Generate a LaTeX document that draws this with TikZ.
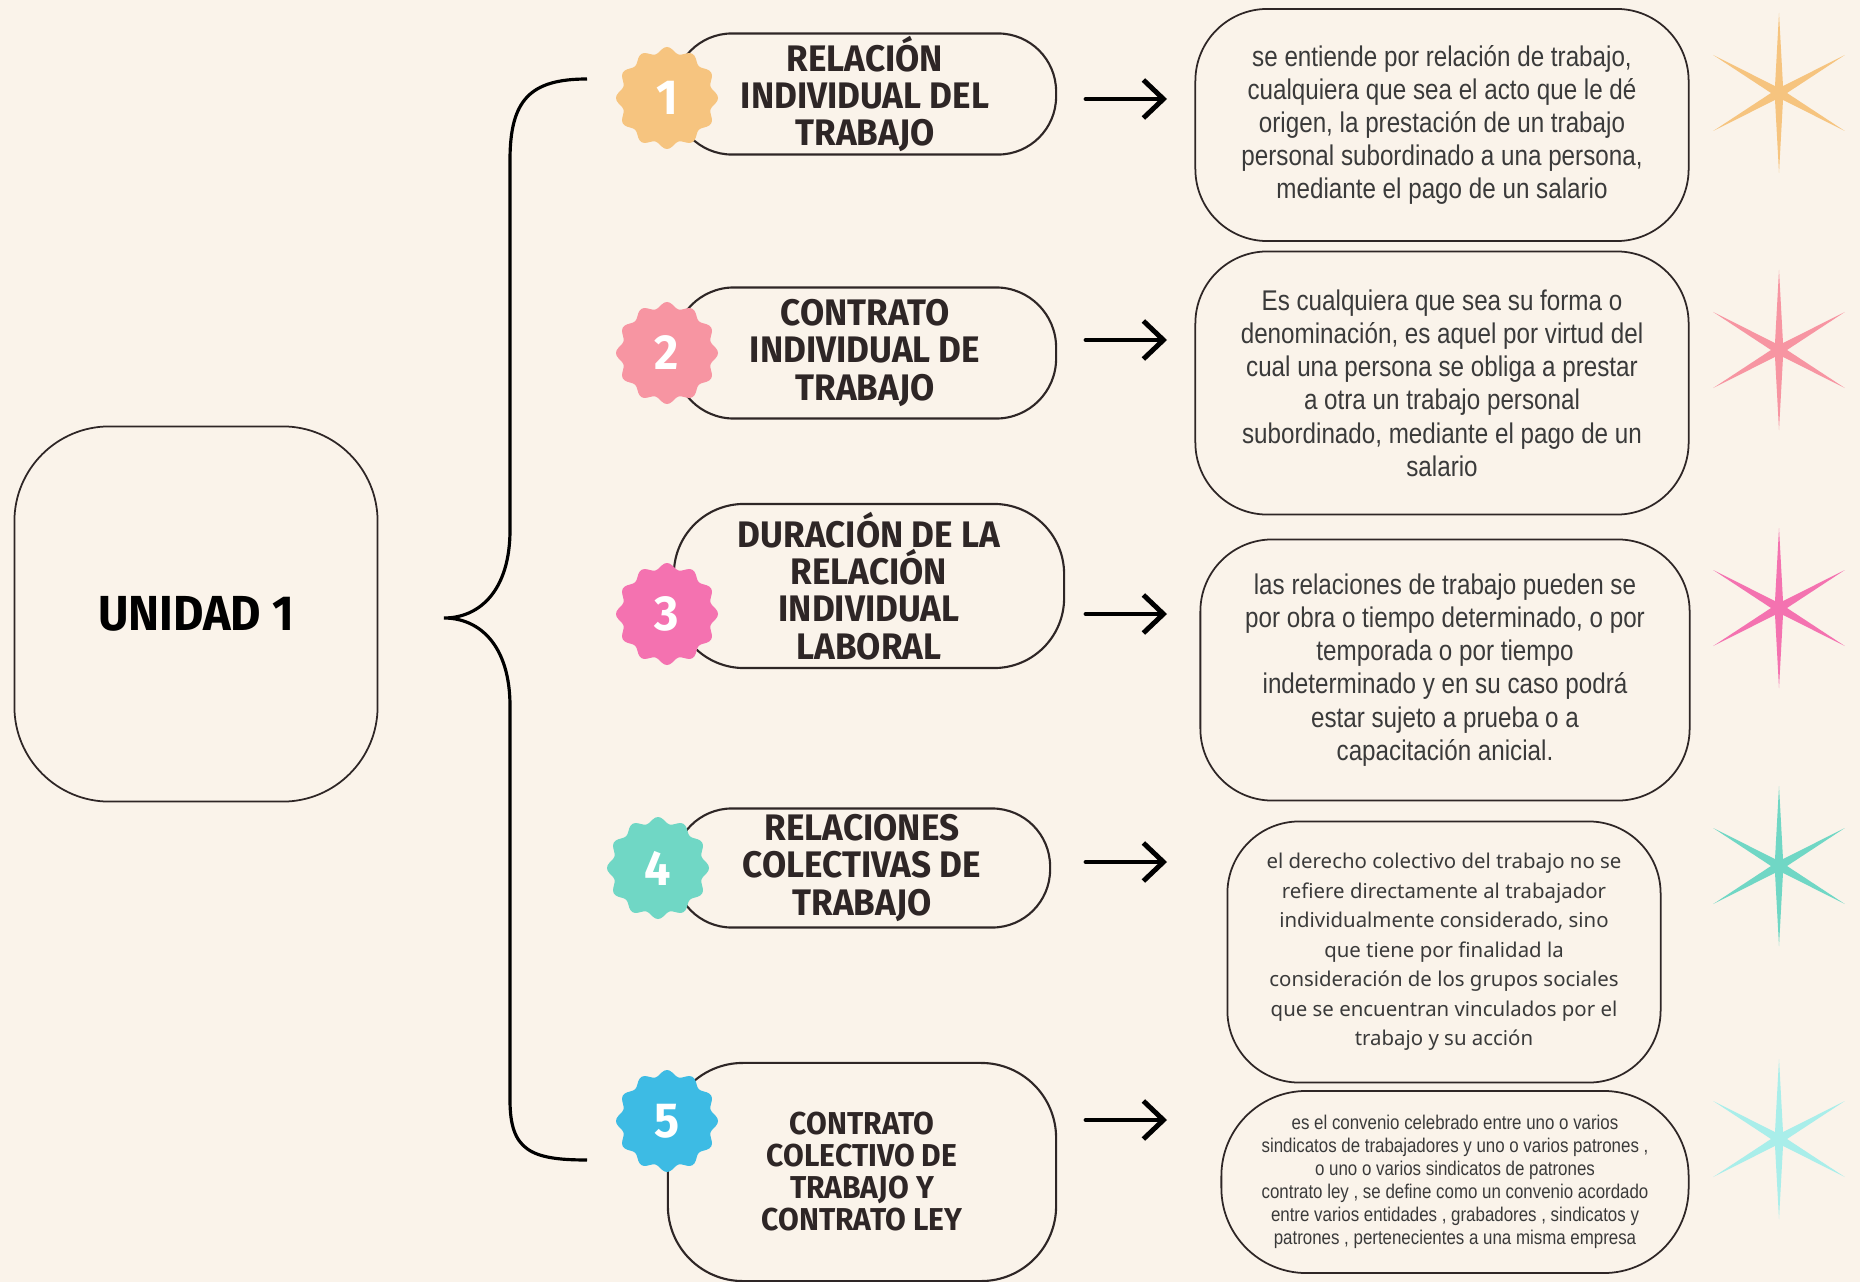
\documentclass[tikz,border=0pt]{standalone}
\usepackage{fontspec}
\setmainfont{Liberation Sans}
\newfontfamily\headfont{Fira Sans}[FakeStretch=0.95]
\newfontfamily\descfont{Liberation Sans}[FakeStretch=0.85]
\newfontfamily\notefont{Noto Sans}
\usetikzlibrary{arrows.meta}
\definecolor{bg}{HTML}{FAF3EA}
\definecolor{ink}{HTML}{2E2626}
\definecolor{txt}{HTML}{3A3A3A}
\definecolor{c1}{HTML}{F6C47F}
\definecolor{c2}{HTML}{F795A2}
\definecolor{c3}{HTML}{F472B0}
\definecolor{c4}{HTML}{70D7C5}
\definecolor{c5}{HTML}{3DBBE4}
\definecolor{s5}{HTML}{A9EEEA}
\newcommand\badge[4]{\fill[#1, shift={(#2,#3)}] plot[domain=0:357, samples=120, smooth cycle, variable=\t] (\t:{48+3*cos(12*\t)});
	\node[num] (n#4) at (#2,#3) {#4};}
\newcommand\sparkle[3]{\fill[#1, shift={(#2,#3)}] (90:80) -- (120:8) -- (150:76) -- (180:8) -- (210:76) -- (240:8) -- (270:80) -- (300:8) -- (330:76) -- (0:8) -- (30:76) -- (60:8) -- cycle;}

\begin{document}
\begin{tikzpicture}[x=0.01cm, y=-0.01cm,
	mainbox/.style={draw=ink, line width=0.5pt, rounded corners=9.5mm, minimum width=3.63cm, minimum height=3.75cm, text=black, font=\headfont\bfseries\fontsize{14}{17}\selectfont},
	pill/.style={draw=ink, line width=0.6pt, rounded corners=#1, align=center, inner sep=0pt, text=ink, font=\headfont\bfseries\fontsize{10.5}{10.6}\selectfont},
	desc/.style={draw=ink, line width=0.5pt, rounded corners=#1, align=center, inner sep=0pt, text=txt, font=\descfont\fontsize{8.1}{9.45}\selectfont},
	num/.style={text=white, font=\headfont\bfseries\fontsize{14}{14}\selectfont},
	arr/.style={line width=1.4pt, line cap=round, -{Straight Barb[length=2mm, width=3.8mm, line width=1.4pt]}},
	brace/.style={line width=0.9pt}]
	\path[fill=bg, use as bounding box] (0,0) rectangle (1860,1282);
	\node[mainbox] (u) at (196,614) {UNIDAD 1};
	\draw[brace] (587,79) .. controls (530,79) and (510,100) .. (510,160) -- (510,530) .. controls (510,590) and (480,618) .. (444,618) .. controls (480,618) and (510,646) .. (510,706) -- (510,1100) .. controls (510,1150) and (530,1160) .. (587,1160);
	\node[pill=5.8mm, minimum width=3.82cm, minimum height=1.21cm] (h1) at (865,94) {RELACIÓN\\INDIVIDUAL DEL\\TRABAJO};
	\node[pill=6mm, minimum width=3.82cm, minimum height=1.31cm] (h2) at (865,353) {CONTRATO\\INDIVIDUAL DE\\TRABAJO};
	\node[pill=7mm, minimum width=3.90cm, minimum height=1.64cm] (h3) at (869,586) {DURACIÓN DE LA\\RELACIÓN\\INDIVIDUAL\\LABORAL};
	\node[pill=5.8mm, minimum width=3.76cm, minimum height=1.19cm] (h4) at (862,868) {RELACIONES\\COLECTIVAS DE\\TRABAJO};
	\node[pill=7.5mm, minimum width=3.88cm, minimum height=2.18cm, font=\headfont\bfseries\fontsize{9}{9.1}\selectfont] (h5) at (862,1172) {CONTRATO\\COLECTIVO DE\\TRABAJO Y\\CONTRATO LEY};
	\badge{c1}{667}{98}{1}
	\badge{c2}{667}{353}{2}
	\badge{c3}{667}{614}{3}
	\badge{c4}{658}{868}{4}
	\badge{c5}{667}{1121}{5}
	\node[desc=7.2mm, minimum width=4.93cm, minimum height=2.32cm] (d1) at (1442,125) {se entiende por relación de trabajo,\\cualquiera que sea el acto que le dé\\origen, la prestación de un trabajo\\personal subordinado a una persona,\\mediante el pago de un salario};
	\node[desc=7.2mm, minimum width=4.93cm, minimum height=2.63cm] (d2) at (1442,383) {Es cualquiera que sea su forma o\\denominación, es aquel por virtud del\\cual una persona se obliga a prestar\\a otra un trabajo personal\\subordinado, mediante el pago de un\\salario};
	\node[desc=7.2mm, minimum width=4.89cm, minimum height=2.61cm] (d3) at (1445,670) {las relaciones de trabajo pueden se\\por obra o tiempo determinado, o por\\temporada o por tiempo\\indeterminado y en su caso podrá\\estar sujeto a prueba o a\\capacitación anicial.};
	\node[desc=7.2mm, minimum width=4.33cm, minimum height=2.61cm, font=\notefont\fontsize{5.8}{8.4}\selectfont] (d4) at (1444,952) {el derecho colectivo del trabajo no se\\refiere directamente al trabajador\\individualmente considerado, sino\\que tiene por finalidad la\\consideración de los grupos sociales\\que se encuentran vinculados por el\\trabajo y su acción};
	\node[desc=8.5mm, minimum width=4.67cm, minimum height=1.82cm, font=\descfont\fontsize{5.65}{6.5}\selectfont] (d5) at (1455,1182) {es el convenio celebrado entre uno o varios\\sindicatos de trabajadores y uno o varios patrones ,\\o uno o varios sindicatos de patrones\\contrato ley , se define como un convenio acordado\\entre varios entidades , grabadores , sindicatos y\\patrones , pertenecientes a una misma empresa};
	\foreach \i/\y in {1/99, 2/340, 3/614, 4/862, 5/1120}{
		\coordinate (s\i) at (1086,\y);
		\coordinate (e\i) at (1167,\y);
		\draw[arr] (s\i) -- (e\i);
	}
	\sparkle{c1}{1779}{93}
	\sparkle{c2}{1779}{350}
	\sparkle{c3}{1779}{608}
	\sparkle{c4}{1779}{866}
	\sparkle{s5}{1779}{1139}
\end{tikzpicture}
\end{document}
